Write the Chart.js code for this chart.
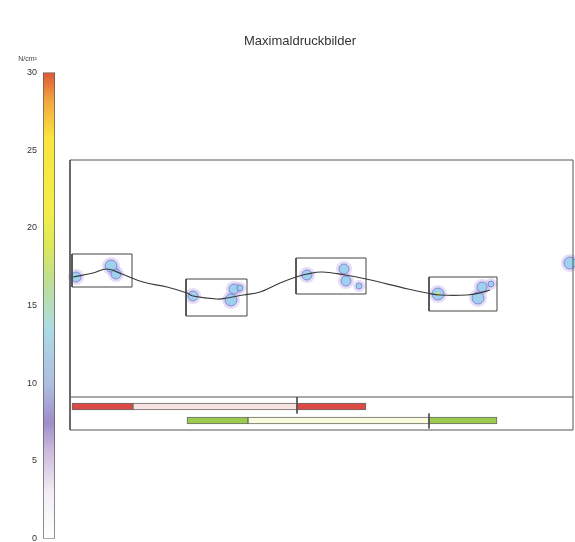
<!DOCTYPE html>
<html>
<head>
<meta charset="utf-8">
<script src="https://cdn.jsdelivr.net/npm/chart.js@4"></script>
<style>
  body { margin: 0; background: #fff; overflow: hidden; }
  #wrap { position: relative; width: 575px; height: 542px; overflow: hidden; }
  #scaleWrap { position: absolute; left: 0; top: 0; width: 76px; height: 550px; }
  #plateWrap { position: absolute; left: 25px; top: 0; width: 550px; height: 542px; }
</style>
</head>
<body>
<div id="wrap">
  <div id="plateWrap"><canvas id="plate"></canvas></div>
  <div id="scaleWrap"><canvas id="scale"></canvas></div>
</div>
<script>
// pressure scale (N/cm2)
var scaleMin = 0;
var scaleMax = 30;
var scaleStep = 5;

// centre of pressure path (cm)
var copX = [0.3, 2.3, 3.7, 5.2, 7.3, 9.7, 11.7, 12.3, 14.7, 15.7, 17.3, 19.0, 21.0, 22.6, 23.7, 25.2, 27.5, 29.6, 33.8, 35.7, 37.0, 39.7, 41.0, 42.0];
var copY = [15.3, 15.7, 16.1, 15.6, 14.8, 14.3, 13.7, 13.4, 13.1, 13.2, 13.5, 13.8, 14.7, 15.3, 15.6, 15.8, 15.5, 15.1, 14.1, 13.7, 13.5, 13.5, 13.7, 14.0];

// pressure blobs (heel / forefoot / toe)
var blobX = [0.6, 4.1, 4.6, 12.3, 16.4, 16.1, 17.0, 23.7, 27.4, 27.6, 28.9, 36.8, 41.2, 40.8, 42.1, 50.0];
var blobY = [15.3, 16.4, 15.6, 13.4, 14.1, 13.0, 14.2, 15.5, 16.1, 14.9, 14.4, 13.6, 14.3, 13.2, 14.6, 16.7];
var blobR = [5, 6, 5, 5, 5, 6, 3, 5, 5, 5, 3, 6, 5, 6, 3, 6];
var peakX = [36.8];
var peakY = [13.6];

// footprint boxes
var boxX0 = [0.2, 11.6, 22.6, 35.9];
var boxX1 = [6.2, 17.7, 29.6, 42.7];
var boxY0 = [14.3, 11.4, 13.6, 11.9];
var boxY1 = [17.6, 15.1, 17.2, 15.3];

// contact phases (left = red row, right = green row)
var gaitRow   = [2.35, 2.35, 2.35, 0.95, 0.95, 0.95];
var gaitStart = [0.2, 6.3, 22.7, 11.7, 17.8, 35.9];
var gaitEnd   = [6.3, 22.7, 29.6, 17.8, 35.9, 42.7];
var gaitKind  = ['left', 'leftSwing', 'left', 'right', 'rightSwing', 'right'];

// plate frame
var plateWidth = 50.3;
var plateHeight = 27;
var timelineTop = 3.3;

var kindColor = { left: '#dc4a46', leftSwing: '#f8e2e0', right: '#9acb4e', rightSwing: '#fafadc' };

function rectPoints(x0, x1, y0, y1) {
  return [{x: x0, y: y0}, {x: x1, y: y0}, {x: x1, y: y1}, {x: x0, y: y1}, {x: x0, y: y0}, {x: x0, y: null}];
}

var boxPts = [];
for (var i = 0; i < boxX0.length; i++) {
  boxPts = boxPts.concat(rectPoints(boxX0[i], boxX1[i], boxY0[i], boxY1[i]));
}

var framePts = rectPoints(0, plateWidth, 0, plateHeight)
  .concat([{x: 0, y: timelineTop}, {x: plateWidth, y: timelineTop}, {x: 0, y: null}])
  .concat([{x: gaitStart[2], y: timelineTop}, {x: gaitStart[2], y: gaitRow[2] - 0.7}, {x: 0, y: null}])
  .concat([{x: gaitStart[5], y: gaitRow[2] - 0.7}, {x: gaitStart[5], y: 0.15}]);

var copPts = copX.map(function (x, i) { return {x: x, y: copY[i]}; });
var blobPts = blobX.map(function (x, i) { return {x: x, y: blobY[i], r: blobR[i]}; });
var haloPts = blobX.map(function (x, i) { return {x: x, y: blobY[i], r: blobR[i] + 3}; });
var peakPts = peakX.map(function (x, i) { return {x: x, y: peakY[i], r: 2}; });
var gaitPts = gaitRow.map(function (y, i) { return {x: [gaitStart[i], gaitEnd[i]], y: y}; });

var font = "'Liberation Sans', Arial, sans-serif";

// colour scale bar
var scaleCtx = document.getElementById('scale').getContext('2d');
new Chart(scaleCtx, {
  type: 'bar',
  data: {
    labels: [''],
    datasets: [{
      data: [[scaleMin, scaleMax]],
      barPercentage: 1,
      categoryPercentage: 1,
      borderColor: '#555',
      borderWidth: 1,
      borderSkipped: false,
      backgroundColor: function (c) {
        var a = c.chart.chartArea;
        if (!a) return '#ccc';
        var g = c.chart.ctx.createLinearGradient(0, a.bottom, 0, a.top);
        g.addColorStop(0.0, '#ffffff');
        g.addColorStop(0.1, '#f3edf5');
        g.addColorStop(0.19, '#cbb8da');
        g.addColorStop(0.25, '#9e8ec8');
        g.addColorStop(0.33, '#aebde0');
        g.addColorStop(0.45, '#acdbe4');
        g.addColorStop(0.56, '#c0e08e');
        g.addColorStop(0.63, '#dde85a');
        g.addColorStop(0.7, '#f3ee4c');
        g.addColorStop(0.86, '#fbe43e');
        g.addColorStop(0.94, '#f2a640');
        g.addColorStop(1.0, '#dc5838');
        return g;
      }
    }]
  },
  options: {
    responsive: true,
    maintainAspectRatio: false,
    animation: false,
    events: [],
    layout: { padding: { left: 0, right: 21, top: 0, bottom: 4 } },
    plugins: {
      legend: { display: false },
      tooltip: { enabled: false },
      title: {
        display: true,
        text: 'N/cm²',
        color: '#444',
        font: { family: font, size: 7, weight: 'normal' },
        padding: { top: 55, bottom: 9 }
      }
    },
    scales: {
      x: { display: false },
      y: {
        min: scaleMin,
        max: scaleMax,
        afterFit: function (s) { s.width = 43; },
        grid: { display: false, drawTicks: false },
        border: { display: false },
        ticks: { stepSize: scaleStep, padding: 6, color: '#333', font: { family: font, size: 9 } }
      }
    }
  }
});

// pressure plate
var plateCtx = document.getElementById('plate').getContext('2d');
new Chart(plateCtx, {
  type: 'scatter',
  data: {
    datasets: [
      {
        type: 'line',
        data: copPts,
        borderColor: '#3a3a3a',
        borderWidth: 1.2,
        tension: 0.4,
        pointRadius: 0
      },
      {
        type: 'line',
        data: boxPts,
        borderColor: '#444',
        borderWidth: 1,
        pointRadius: 0,
        spanGaps: false
      },
      {
        type: 'line',
        data: framePts,
        borderColor: '#555',
        borderWidth: 1,
        pointRadius: 0,
        spanGaps: false,
        clip: false
      },
      {
        type: 'bubble',
        data: peakPts,
        backgroundColor: '#cde46a',
        borderWidth: 0
      },
      {
        type: 'bubble',
        data: blobPts,
        backgroundColor: 'rgba(150, 208, 236, 0.9)',
        borderColor: 'rgba(120, 110, 205, 0.75)',
        borderWidth: 1
      },
      {
        type: 'bubble',
        data: haloPts,
        backgroundColor: 'rgba(180, 155, 225, 0.35)',
        borderWidth: 0
      },
      {
        type: 'bar',
        indexAxis: 'y',
        grouped: false,
        data: gaitPts,
        barThickness: 7,
        backgroundColor: gaitKind.map(function (k) { return kindColor[k]; }),
        borderColor: '#6a6a6a',
        borderWidth: 1,
        borderSkipped: false
      }
    ]
  },
  options: {
    responsive: true,
    maintainAspectRatio: false,
    animation: false,
    events: [],
    layout: { autoPadding: false, padding: { left: 0, right: 0, top: 0, bottom: 102 } },
    plugins: {
      legend: { display: false },
      tooltip: { enabled: false },
      title: {
        display: true,
        text: 'Maximaldruckbilder',
        color: '#333',
        font: { family: font, size: 13, weight: 'normal' },
        padding: { top: 34, bottom: 100.4 }
      }
    },
    scales: {
      x: { type: 'linear', display: false, offset: false, min: -4.5, max: 50.5 },
      y: { type: 'linear', display: false, offset: false, grid: { offset: false }, min: -1, max: 28 }
    }
  }
});
</script>
</body>
</html>
